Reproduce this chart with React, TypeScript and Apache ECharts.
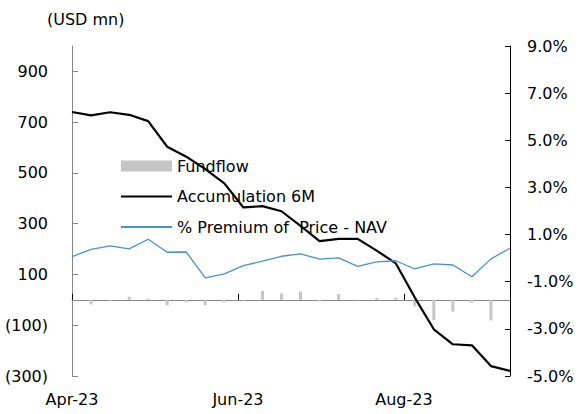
import React, { useEffect, useRef } from "react";
import * as echarts from "echarts";

// Weekly observation dates
const dates: string[] = [
  "2023-04-01", "2023-04-08", "2023-04-15", "2023-04-22", "2023-04-29",
  "2023-05-06", "2023-05-13", "2023-05-20", "2023-05-27", "2023-06-03",
  "2023-06-10", "2023-06-17", "2023-06-24", "2023-07-01", "2023-07-08",
  "2023-07-15", "2023-07-22", "2023-07-29", "2023-08-05", "2023-08-12",
  "2023-08-19", "2023-08-26", "2023-09-02", "2023-09-09",
];

// Weekly fund flow (USD mn)
const fundflow: number[] = [
  0, -18, -3, 12, 5, -21, -10, -21, -10, -3, 35, 25, 33, -6, 23, -2, 8, 8,
  -26, -79, -46, -12, -81, 0,
];

// Accumulated 6M fund flow (USD mn)
const accumulation6M: number[] = [
  740, 727, 739, 729, 704, 603, 564, 515, 459, 364, 369, 349, 291, 231, 240,
  240, 194, 144, 9, -116, -175, -179, -261, -280,
];

// % Premium of Price - NAV
const premium: number[] = [
  0.06, 0.37, 0.52, 0.39, 0.8, 0.25, 0.26, -0.84, -0.67, -0.32, -0.13, 0.08,
  0.18, -0.04, 0.01, -0.35, -0.16, -0.11, -0.46, -0.24, -0.29, -0.79, -0.03,
  0.42,
];

const xLabelDates: string[] = ["2023-04-01", "2023-06-01", "2023-08-01"];
const leftTicks: number[] = [-300, -100, 100, 300, 500, 700, 900];
const rightTicks: number[] = [-5, -3, -1, 1, 3, 5, 7, 9];

const monthNames = ["Jan", "Feb", "Mar", "Apr", "May", "Jun", "Jul", "Aug", "Sep", "Oct", "Nov", "Dec"];

const toTs = (s: string) => {
  const [y, m, d] = s.split("-").map(Number);
  return new Date(y, m - 1, d).getTime();
};

const FONT = "DejaVu Sans";
const hiddenSymbol = { opacity: 0, borderWidth: 0, color: "rgba(0,0,0,0)", borderColor: "rgba(0,0,0,0)" };

export default function App() {
  const ref = useRef<HTMLDivElement>(null);

  useEffect(() => {
    document.body.style.margin = "0";
    if (!ref.current) return;
    const chart = echarts.init(ref.current, undefined, { renderer: "svg" });
    const ts = dates.map(toTs);
    const labelTs = xLabelDates.map(toTs);
    const minX = ts[0];
    const maxX = ts[ts.length - 1];

    chart.setOption({
      animation: false,
      backgroundColor: "#ffffff",
      textStyle: { fontFamily: FONT },
      graphic: [
        {
          type: "text",
          left: 47,
          top: 11,
          style: { text: "(USD mn)", fontSize: 16, fontFamily: FONT, fill: "#000" },
        },
      ],
      legend: {
        orient: "vertical",
        left: 120,
        top: 158,
        padding: 0,
        itemWidth: 51,
        itemHeight: 11,
        itemGap: 14.5,
        selectedMode: false,
        textStyle: { fontSize: 16, fontFamily: FONT, color: "#000", lineHeight: 16 },
        data: [
          { name: "Fundflow", icon: "rect" },
          { name: "Accumulation 6M", itemStyle: hiddenSymbol },
          { name: "% Premium of  Price - NAV", itemStyle: hiddenSymbol },
        ],
      },
      grid: { left: 72, right: 71, top: 46, bottom: 38, containLabel: false },
      xAxis: [
        {
          type: "value",
          min: minX,
          max: maxX,
          position: "bottom",
          axisLine: { show: false, onZero: false },
          axisTick: { show: false },
          splitLine: { show: false },
          axisLabel: {
            customValues: labelTs,
            margin: 15,
            fontSize: 16,
            fontFamily: FONT,
            color: "#000",
            formatter: (v: number) => {
              const d = new Date(v);
              return monthNames[d.getMonth()] + "-" + String(d.getFullYear()).slice(2);
            },
          },
        },
        {
          type: "value",
          min: minX,
          max: maxX,
          position: "top",
          axisLine: { show: true, onZero: true, onZeroAxisIndex: 0, lineStyle: { color: "#868686", width: 1 } },
          axisTick: { show: true, inside: false, length: 6, customValues: labelTs, lineStyle: { color: "#000" } },
          axisLabel: { show: false },
          splitLine: { show: false },
        },
      ],
      yAxis: [
        {
          type: "value",
          min: -300,
          max: 1000,
          position: "left",
          axisLine: { show: true, onZero: false, lineStyle: { color: "#868686" } },
          axisTick: { show: true, inside: true, length: 6, customValues: leftTicks, lineStyle: { color: "#868686" } },
          splitLine: { show: false },
          axisLabel: {
            customValues: leftTicks,
            margin: 24,
            fontSize: 16,
            fontFamily: FONT,
            color: "#000",
            formatter: (v: number) => (v < 0 ? `(${-v})` : `${v}`),
          },
        },
        {
          type: "value",
          min: -5,
          max: 9,
          position: "right",
          axisLine: { show: true, onZero: false, lineStyle: { color: "#000" } },
          axisTick: { show: true, inside: true, length: 5, customValues: rightTicks, lineStyle: { color: "#000" } },
          splitLine: { show: false },
          axisLabel: {
            customValues: rightTicks,
            margin: 17,
            fontSize: 16,
            fontFamily: FONT,
            color: "#000",
            formatter: (v: number) => `${v.toFixed(1)}%`,
          },
        },
      ],
      series: [
        {
          name: "Fundflow",
          type: "bar",
          xAxisIndex: 0,
          yAxisIndex: 0,
          barWidth: 3,
          itemStyle: { color: "#C6C6C6" },
          data: ts.map((t, i) => [t, fundflow[i]]),
        },
        {
          name: "Accumulation 6M",
          type: "line",
          xAxisIndex: 0,
          yAxisIndex: 0,
          symbol: "none",
          itemStyle: { color: "#000000" },
          lineStyle: { color: "#000000", width: 2.2 },
          data: ts.map((t, i) => [t, accumulation6M[i]]),
        },
        {
          name: "% Premium of  Price - NAV",
          type: "line",
          xAxisIndex: 0,
          yAxisIndex: 1,
          symbol: "none",
          itemStyle: { color: "#4A8FD9" },
          lineStyle: { color: "#4A8FD9", width: 1.3 },
          data: ts.map((t, i) => [t, premium[i]]),
        },
      ],
    });

    return () => chart.dispose();
  }, []);

  return (
    <div
      ref={ref}
      style={{ position: "absolute", left: 0, top: 0, width: 581, height: 414 }}
    />
  );
}
